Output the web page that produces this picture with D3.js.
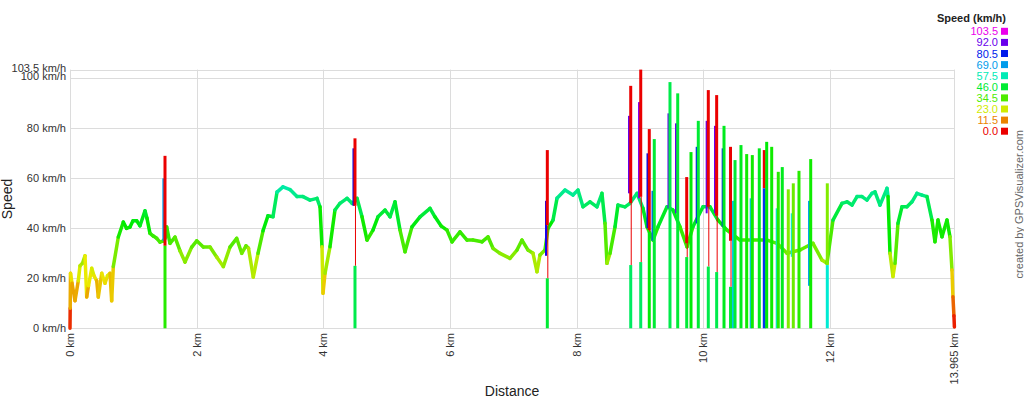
<!DOCTYPE html>
<html>
<head>
<meta charset="utf-8">
<script src="https://cdn.jsdelivr.net/npm/d3@7"></script>
<style>
  body { margin: 0; background: #fff; }
  svg { display: block; font-family: Arial, "Liberation Sans", sans-serif; }
</style>
</head>
<body>
<svg id="chart"></svg>
<script>
// speed profile
const traceKm = [0, 0.003, 0.008, 0.032, 0.079, 0.131, 0.158, 0.197, 0.237, 0.264, 0.292, 0.343, 0.379, 0.422, 0.447,
  0.501, 0.553, 0.592, 0.632, 0.658, 0.684, 0.763, 0.842, 0.892, 0.947, 0.995, 1.053, 1.105, 1.184, 1.216,
  1.263, 1.311, 1.369, 1.421, 1.474, 1.5, 1.527, 1.579, 1.658, 1.737, 1.816, 1.922, 2.001, 2.105, 2.211,
  2.316, 2.421, 2.526, 2.632, 2.711, 2.779, 2.819, 2.894, 2.969, 3.048, 3.126, 3.205, 3.269, 3.363, 3.474,
  3.584, 3.679, 3.79, 3.9, 3.948, 3.979, 3.995, 4.027, 4.105, 4.184, 4.263, 4.374, 4.453, 4.5, 4.532,
  4.611, 4.69, 4.784, 4.863, 4.974, 5.053, 5.132, 5.211, 5.29, 5.4, 5.527, 5.685, 5.763, 5.858, 5.953,
  6.032, 6.158, 6.269, 6.363, 6.505, 6.6, 6.679, 6.79, 6.948, 7.058, 7.137, 7.232, 7.311, 7.374, 7.421,
  7.5, 7.548, 7.627, 7.69, 7.816, 7.942, 8.021, 8.1, 8.211, 8.321, 8.4, 8.448, 8.479, 8.527, 8.606,
  8.653, 8.764, 8.843, 8.954, 9.048, 9.111, 9.206, 9.285, 9.427, 9.521, 9.632, 9.743, 9.837, 9.995, 10.106,
  10.232, 10.374, 10.58, 10.785, 11.006, 11.164, 11.322, 11.527, 11.732, 11.874, 11.953, 12.048, 12.19, 12.269, 12.348,
  12.427, 12.506, 12.585, 12.664, 12.711, 12.79, 12.901, 12.917, 12.948, 12.995, 13.027, 13.074, 13.137, 13.216, 13.295,
  13.374, 13.453, 13.532, 13.611, 13.658, 13.706, 13.769, 13.848, 13.895, 13.927, 13.942, 13.958, 13.965]
const traceSpeed = [0, 8, 22, 18, 11, 19, 25, 26, 29, 12.5, 17, 24, 21, 19, 12.5,
  22, 18, 21, 22, 11, 24.7, 36.5, 42.5, 40, 40.5, 43, 43, 41, 47, 44,
  38, 37, 36, 34.5, 35, 36, 40.5, 34, 36.5, 31, 26.5, 32.5, 35, 32.5, 32.5,
  28.5, 24.7, 32.5, 36, 30, 33, 32, 20.5, 30, 39, 45, 44.6, 54.5, 56.6, 55.5,
  52.7, 52.7, 51.3, 52, 48.6, 32.6, 14, 22, 32.6, 47.3, 50, 52, 50, 51, 52,
  44.6, 35.3, 39.3, 44.6, 47.3, 44.6, 50.6, 39.3, 30.6, 40.6, 44.6, 48, 44.6, 41, 39.3,
  34.6, 38.6, 35.3, 35.3, 34.6, 36.6, 32, 30, 28, 31.3, 35.3, 31.3, 30, 22.6, 29.3,
  31.3, 40, 43.3, 52, 55.3, 53.3, 55.3, 48.6, 50.6, 48.6, 54, 42, 26, 30, 40.6,
  49.3, 48.6, 50, 54, 48, 40.6, 35.3, 40.6, 48.6, 47.3, 40.6, 32.6, 40.6, 48.6, 48.6,
  43.3, 39.3, 35.3, 35.3, 35.3, 34, 30, 31.3, 34, 27.3, 26, 43.3, 50, 50.6, 49.3,
  52.7, 52.7, 51.3, 54, 54.6, 49.3, 56, 52.7, 30, 20.7, 26, 42, 48.6, 48.6, 50.6,
  54, 53.3, 52.7, 43.3, 34.6, 43.3, 36.6, 43.3, 36.6, 23.3, 12.6, 5, 0.5]

// GPS glitches: tall bars, top part and bottom part with their own speed colour
const spikeKm = [1.5, 4.5, 7.537, 8.854, 9.012, 9.147, 9.226, 9.474, 9.596, 9.738, 9.806, 9.921, 10.079, 10.211,
  10.327, 10.43, 10.501, 10.595, 10.685, 10.774, 10.884, 10.963, 11.001, 11.08, 11.184, 11.247, 11.342, 11.421,
  11.511, 11.696, 11.958]
const spikeTop = [69, 76, 71.3, 97, 103.5, 79.7, 75.7, 98.5, 94, 60.5, 70.5, 83, 95.3, 93.3,
  81, 72.6, 67.3, 73.3, 69.7, 69.3, 72, 71.3, 74.6, 72.6, 62.6, 64.5, 55.6, 58,
  63, 67.7, 58]
const spikeSplit = [33, 49, 41.3, 50, 52.6, 39.3, 0, 0, 0, 34, 0, 0, 48.6, 45,
  0, 35, 0, 0, 0, 0, 0, 56, 0, 0, 0, 0, 0, 0,
  0, 0, 25.3]
const spikeLow = [33, 25, 20, 25.3, 26.5, 38.6, 0, 0, 0, 28.5, 0, 0, 24.7, 22.5,
  0, 16.6, 0, 0, 0, 0, 0, 56, 0, 0, 0, 0, 0, 0,
  0, 0, 25.3]
const spikeTopSpeed = [0, 0, 0, 0, 0, 0, 46, 48, 46, 0, 42, 46, 0, 0,
  44, 0, 46, 44, 40, 40, 44, 0, 42, 40, 38, 44, 30, 32,
  38, 40, 30]
const spikeLowSpeed = [38, 48, 46, 50, 50, 42, 46, 48, 46, 46, 42, 46, 48, 48,
  44, 46, 46, 44, 40, 40, 44, 78, 42, 40, 38, 44, 30, 32,
  38, 40, 60]

// thinner glitch bars just left of the big ones
const sideKm = [1.474, 4.476, 7.516, 8.827, 8.985, 9.119, 9.198, 9.45, 9.569, 9.896, 10.053, 10.185, 10.306,
  10.469, 10.748, 11.159, 11.397, 11.669]
const sideFrom = [35, 49, 29, 54, 52, 40, 35, 48, 46, 42, 46, 46, 40.6, 0, 0, 0, 28.6, 17]
const sideTo = [60, 72, 51, 85, 90.5, 70, 55, 86, 82, 72.6, 83, 81, 72, 51, 52, 48, 46, 51]
const sideSpeed = [69, 82, 85, 92, 95, 82, 75, 92, 92, 80, 92, 92, 80, 65, 66, 60, 62, 68]

const xTicks = [0, 2, 4, 6, 8, 10, 12, 13.965]
const yTicks = [0, 20, 40, 60, 80, 100, 103.5]
const legendValues = [103.5, 92.0, 80.5, 69.0, 57.5, 46.0, 34.5, 23.0, 11.5, 0.0]

const width = 1024
const height = 398

const svg = d3.select('svg#chart')
  .attr('width', width)
  .attr('height', height)
  .attr('viewBox', `0 0 ${width} ${height}`)

const x = d3.scaleLinear()
  .domain([0, 13.965])
  .range([70, 954.4])

const y = d3.scaleLinear()
  .domain([0, 103.5])
  .range([328.3, 69.6])

// red -> magenta over the hue wheel, like the legend
const hue = d3.scaleLinear().domain([0, 103.5]).range([0, 300])
const color = v => d3.hsl(hue(v), 1, 0.46).formatHex()

const crisp = v => Math.round(v) + 0.5

// grid
const grid = svg.append('g')
  .attr('stroke', '#dcdcdc')
  .attr('stroke-width', 1)

grid.selectAll('line.h')
  .data(yTicks)
  .join('line')
    .attr('class', 'h')
    .attr('x1', x(0))
    .attr('x2', x(13.965))
    .attr('y1', d => crisp(y(d)))
    .attr('y2', d => crisp(y(d)))

grid.selectAll('line.v')
  .data(xTicks)
  .join('line')
    .attr('class', 'v')
    .attr('x1', d => crisp(x(d)))
    .attr('x2', d => crisp(x(d)))
    .attr('y1', y(103.5))
    .attr('y2', y(0))

// y tick labels
svg.append('g')
  .attr('font-size', 11)
  .attr('fill', '#333')
  .attr('text-anchor', 'end')
  .selectAll('text')
  .data(yTicks)
  .join('text')
    .attr('x', 66)
    .attr('y', d => y(d) + (d == 103.5 ? 2 : d == 100 ? 2 : 4))
    .text(d => `${d} km/h`)

// x tick labels, rotated
svg.append('g')
  .attr('font-size', 11)
  .attr('fill', '#333')
  .attr('text-anchor', 'end')
  .selectAll('text')
  .data(xTicks)
  .join('text')
    .attr('transform', d => `translate(${x(d) + 4},333) rotate(-90)`)
    .text(d => `${d} km`)

svg.append('text')
  .attr('x', 512)
  .attr('y', 396)
  .attr('text-anchor', 'middle')
  .attr('font-size', 14)
  .attr('fill', '#222')
  .text('Distance')

svg.append('text')
  .attr('transform', 'translate(12,199) rotate(-90)')
  .attr('text-anchor', 'middle')
  .attr('font-size', 14)
  .attr('fill', '#222')
  .text('Speed')

svg.append('text')
  .attr('transform', 'translate(1023,130) rotate(-90)')
  .attr('text-anchor', 'end')
  .attr('font-size', 11)
  .attr('fill', '#666')
  .text('created by GPSVisualizer.com')

// trace, one segment per pair of points, coloured by speed
const points = traceKm.map((km, i) => ({km, speed: traceSpeed[i]}))

svg.append('g')
  .attr('stroke-width', 3.5)
  .attr('stroke-linecap', 'round')
  .selectAll('line')
  .data(d3.pairs(points))
  .join('line')
    .attr('x1', ([a, b]) => x(a.km))
    .attr('y1', ([a, b]) => y(a.speed))
    .attr('x2', ([a, b]) => x(b.km))
    .attr('y2', ([a, b]) => y(b.speed))
    .attr('stroke', ([a, b]) => color((a.speed + b.speed) / 2))

// glitch bars
const sides = sideKm.map((km, i) => ({km, from: sideFrom[i], to: sideTo[i], speed: sideSpeed[i]}))

svg.append('g')
  .attr('stroke-width', 2)
  .selectAll('line')
  .data(sides)
  .join('line')
    .attr('x1', d => x(d.km))
    .attr('x2', d => x(d.km))
    .attr('y1', d => y(d.from))
    .attr('y2', d => y(d.to))
    .attr('stroke', d => color(d.speed))

const spikes = spikeKm.map((km, i) => ({
  km,
  top: spikeTop[i],
  split: spikeSplit[i],
  low: spikeLow[i],
  topSpeed: spikeTopSpeed[i],
  lowSpeed: spikeLowSpeed[i],
}))

const sg = svg.append('g')
  .selectAll('g')
  .data(spikes)
  .join('g')

// thin link between the bottom part and the top part
sg.filter(d => d.split > d.low)
  .append('line')
    .attr('x1', d => x(d.km) + 0.5)
    .attr('x2', d => x(d.km) + 0.5)
    .attr('y1', d => y(d.low))
    .attr('y2', d => y(d.split))
    .attr('stroke', d => color(d.topSpeed))
    .attr('stroke-width', 1)

sg.append('line')
    .attr('x1', d => x(d.km))
    .attr('x2', d => x(d.km))
    .attr('y1', d => y(d.split))
    .attr('y2', d => y(d.top))
    .attr('stroke', d => color(d.topSpeed))
    .attr('stroke-width', 3)

sg.filter(d => d.low > 0)
  .append('line')
    .attr('x1', d => x(d.km))
    .attr('x2', d => x(d.km))
    .attr('y1', y(0))
    .attr('y2', d => y(d.low))
    .attr('stroke', d => color(d.lowSpeed))
    .attr('stroke-width', 3)

// legend
svg.append('text')
  .attr('x', 1006)
  .attr('y', 22)
  .attr('text-anchor', 'end')
  .attr('font-size', 11)
  .attr('font-weight', 'bold')
  .attr('fill', '#222')
  .text('Speed (km/h)')

const legend = svg.append('g')
  .selectAll('g')
  .data(legendValues)
  .join('g')
    .attr('transform', (d, i) => `translate(0,${31.3 + i * 11.1})`)

legend.append('text')
  .attr('x', 998)
  .attr('y', 4)
  .attr('text-anchor', 'end')
  .attr('font-size', 11)
  .attr('fill', d => color(d))
  .text(d => d.toFixed(1))

legend.append('rect')
  .attr('x', 1001)
  .attr('y', -3.5)
  .attr('width', 7)
  .attr('height', 7)
  .attr('fill', d => color(d))
</script>
</body>
</html>
